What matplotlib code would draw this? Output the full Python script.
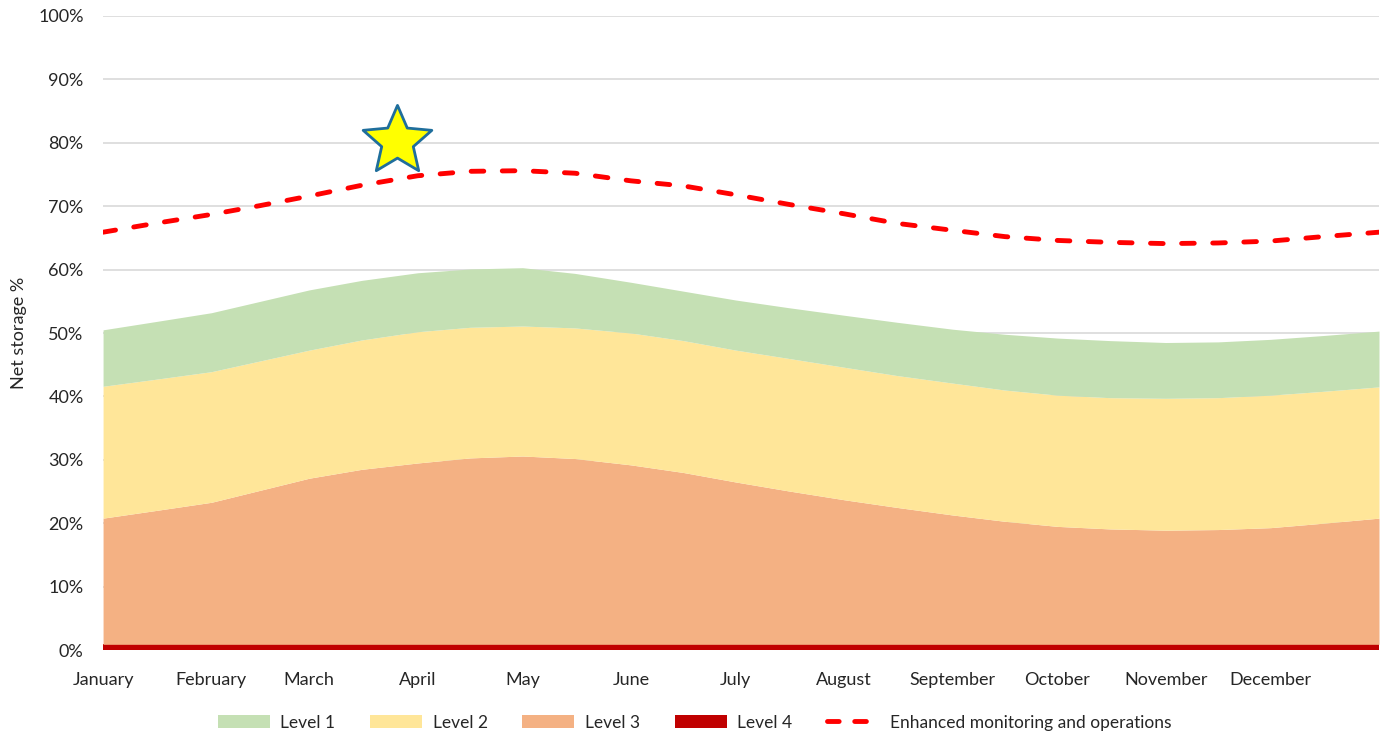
"""Net storage trigger levels through the year."""

import numpy as np
import matplotlib.pyplot as plt
from matplotlib.lines import Line2D
from matplotlib.patches import Patch
from matplotlib.path import Path

# day-of-year sample positions (month starts and mid-months, last = year end)
days = [0, 15, 31, 45, 59, 74, 90, 105, 120, 135, 151, 166, 181,
        196, 212, 227, 243, 258, 273, 288, 304, 319, 334, 349, 365]

month_starts = [0, 31, 59, 90, 120, 151, 181, 212, 243, 273, 304, 334]
month_names = ["January", "February", "March", "April", "May", "June", "July",
               "August", "September", "October", "November", "December"]

# upper edge of each band, % of net storage
level4_top = [0.9] * len(days)
level3_top = [20.8, 22.0, 23.3, 25.2, 27.1, 28.5, 29.5, 30.3, 30.6, 30.2, 29.2, 28.0, 26.5,
              25.1, 23.7, 22.5, 21.3, 20.3, 19.5, 19.1, 18.9, 19.0, 19.3, 20.0, 20.8]
level2_top = [41.6, 42.7, 43.9, 45.6, 47.3, 48.9, 50.2, 50.9, 51.1, 50.8, 50.0, 48.8, 47.3,
              46.0, 44.6, 43.3, 42.1, 41.0, 40.2, 39.8, 39.7, 39.8, 40.2, 40.8, 41.5]
level1_top = [50.5, 51.8, 53.2, 55.0, 56.8, 58.3, 59.5, 60.1, 60.3, 59.4, 58.0, 56.6, 55.2,
              54.0, 52.8, 51.7, 50.6, 49.8, 49.2, 48.8, 48.5, 48.6, 49.0, 49.6, 50.3]
enhanced = [65.9, 67.3, 68.7, 70.1, 71.6, 73.3, 74.8, 75.5, 75.6, 75.2, 74.0, 73.2, 71.8,
            70.3, 68.8, 67.3, 66.2, 65.2, 64.6, 64.3, 64.1, 64.2, 64.5, 65.2, 65.9]

# current storage marker
star_day = [84]
star_value = [80.3]

COLORS = {
    "Level 1": "#C5E0B4",
    "Level 2": "#FFE699",
    "Level 3": "#F4B183",
    "Level 4": "#C00000",
}


def fat_star(inner=0.46):
    # five-point star outline, a bit chunkier than matplotlib's "*"
    ang = np.pi / 2 + np.arange(10) * np.pi / 5
    rad = np.where(np.arange(10) % 2 == 0, 1.0, inner)
    verts = np.column_stack([rad * np.cos(ang), rad * np.sin(ang)])
    verts = np.vstack([verts, verts[:1]])
    return Path(verts, closed=True)


plt.rcParams["font.family"] = ["Lato", "DejaVu Sans"]

fig = plt.figure(figsize=(13.89, 7.33), dpi=100)
ax = fig.add_axes([0.0742, 0.1132, 0.9186, 0.865])

bottom = [0.0] * len(days)
bands = [("Level 4", level4_top), ("Level 3", level3_top),
         ("Level 2", level2_top), ("Level 1", level1_top)]
for name, top in bands:
    ax.fill_between(days, bottom, top, color=COLORS[name], linewidth=0, zorder=2)
    bottom = top

ax.plot(days, enhanced, color="#FF0000", linewidth=3.5, dashes=(2.6, 3.8),
        dash_capstyle="round", zorder=3)

ax.plot(star_day, star_value, marker=fat_star(), markersize=52, markerfacecolor="#FFFF00",
        markeredgecolor="#1F6E9C", markeredgewidth=2, linestyle="none", zorder=4)

ax.set_xlim(0, 365)
ax.set_ylim(0, 100)
ax.set_yticks(range(0, 101, 10))
ax.set_yticklabels([f"{v}%" for v in range(0, 101, 10)])
ax.set_xticks(month_starts)
ax.set_xticklabels(month_names)
ax.tick_params(length=0, labelsize=13, colors="#262626")
ax.tick_params(axis="x", pad=16)
ax.tick_params(axis="y", pad=14)
ax.grid(axis="y", color="#D9D9D9", linewidth=1.2, zorder=1)
ax.set_axisbelow(True)
for spine in ax.spines.values():
    spine.set_visible(False)
ax.set_ylabel("Net storage %", fontsize=13, color="#262626", labelpad=8)

handles = [Patch(facecolor=COLORS[n], edgecolor="none") for n in ["Level 1", "Level 2", "Level 3", "Level 4"]]
handles.append(Line2D([0], [0], color="#FF0000", linewidth=3.5, dashes=(2.4, 3.2),
                      dash_capstyle="round"))
labels = ["Level 1", "Level 2", "Level 3", "Level 4", "Enhanced monitoring and operations"]
fig.legend(handles, labels, loc="lower center", bbox_to_anchor=(0.5, -0.018), ncol=5,
           frameon=False, fontsize=12.5, handlelength=3.0, handleheight=0.85,
           columnspacing=2.0, handletextpad=0.6, labelcolor="#262626")

fig.savefig("out.png", dpi=100)
